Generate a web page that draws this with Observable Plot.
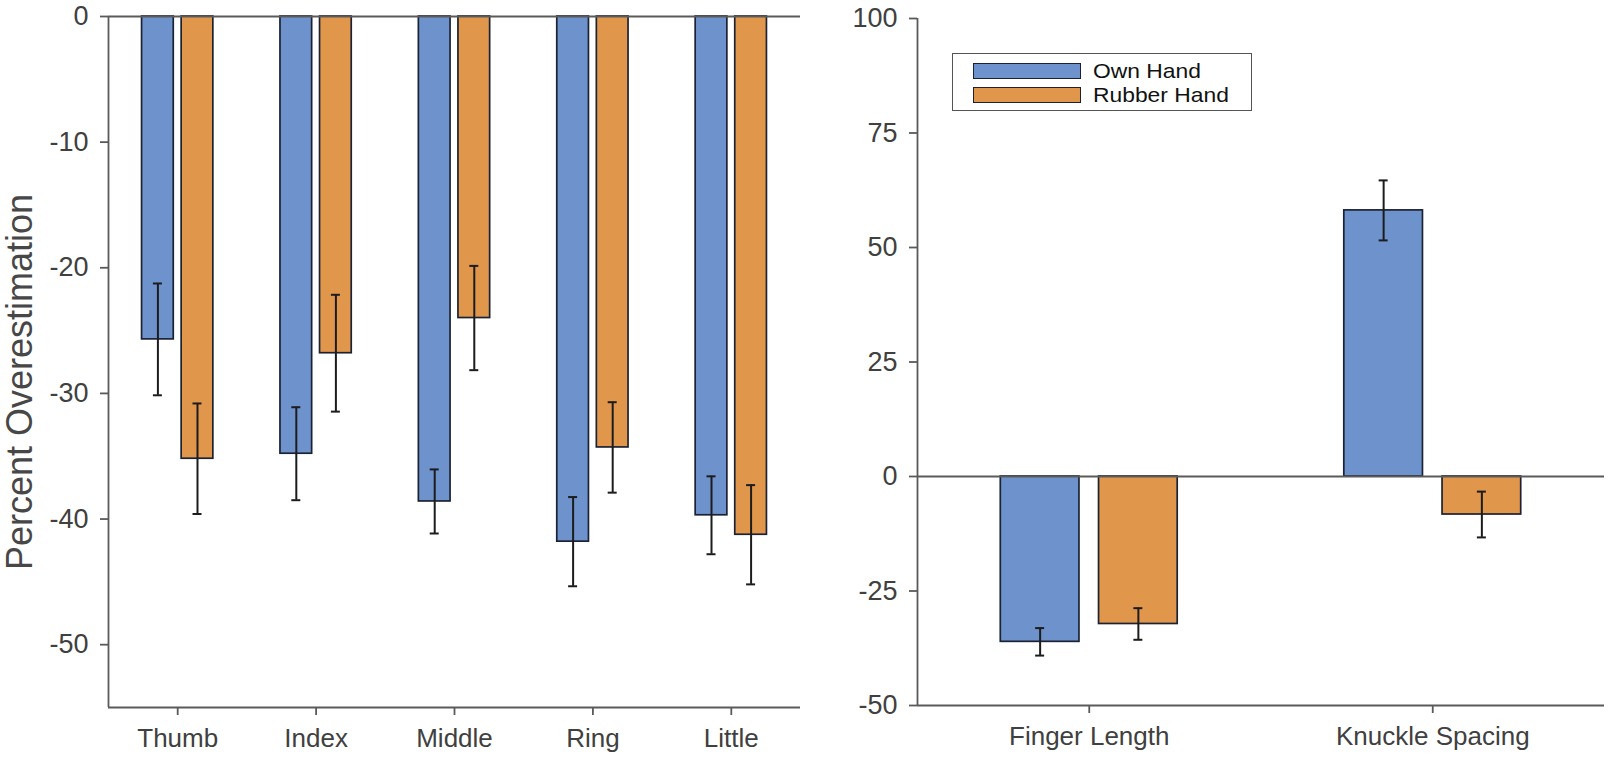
<!DOCTYPE html>
<html>
<head>
<meta charset="utf-8">
<script src="https://cdn.jsdelivr.net/npm/d3@7"></script>
<script src="https://cdn.jsdelivr.net/npm/@observablehq/plot@0.6"></script>
<style>
  body { margin: 0; background: #fff; }
  #wrap { position: relative; width: 1610px; height: 761px; font-family: "Liberation Sans", Arial, Helvetica, sans-serif; }
  #left, #right { position: absolute; top: 0; }
  #left { left: 0; }
  #right { left: 830px; }
  #legend { position: absolute; left: 952px; top: 53px; width: 300px; height: 58px; border: 1.5px solid #555; background: #fff; box-sizing: border-box; }
  #legend .sw { position: absolute; left: 20px; width: 108px; height: 16px; border: 1.7px solid #1b2233; box-sizing: border-box; }
  #legend .lb { position: absolute; left: 140px; font-size: 20.4px; line-height: 20px; height: 20px; color: #111; white-space: nowrap; transform: scaleX(1.12); transform-origin: left center; }
</style>
</head>
<body>
<div id="wrap">
  <div id="left"></div>
  <div id="right"></div>
  <div id="legend"></div>
</div>
<script>
// ---- data ----
const seriesNames = ["Own Hand", "Rubber Hand"];
const seriesColors = ["#6e92cc", "#e1974b"];

const fingerCategories = ["Thumb", "Index", "Middle", "Ring", "Little"];
const ownFinger = [-25.7, -34.8, -38.6, -41.8, -39.7];
const ownFingerSE = [4.45, 3.7, 2.55, 3.55, 3.1];
const rubberFinger = [-35.2, -26.8, -24.0, -34.3, -41.25];
const rubberFingerSE = [4.4, 4.65, 4.15, 3.6, 3.95];
const fingerTicks = [0, -10, -20, -30, -40, -50];
const fingerDomain = [-55, 0];

const measureCategories = ["Finger Length", "Knuckle Spacing"];
const ownMeasure = [-36.1, 58.1];
const ownMeasureSE = [3.0, 6.55];
const rubberMeasure = [-32.2, -8.3];
const rubberMeasureSE = [3.45, 5.0];
const measureTicks = [-50, -25, 0, 25, 50, 75, 100];
const measureDomain = [-50, 100];

const yLabel = "Percent Overestimation";

// ---- helpers ----
function buildRows(cats, own, ownSE, rub, rubSE) {
  return cats.flatMap((c, i) => [
    { cat: c, i, s: 0, series: seriesNames[0], value: own[i], se: ownSE[i] },
    { cat: c, i, s: 1, series: seriesNames[1], value: rub[i], se: rubSE[i] }
  ]);
}

const axisColor = "#5a5a5a";
const textColor = "#404040";
const font = "Liberation Sans, Arial, Helvetica, sans-serif";

function panel({ cats, rows, yDomain, yTicks, width, height, marginLeft, marginRight, marginTop, marginBottom, label }) {
  const xDomain = [0.5, cats.length + 0.5];
  const pxPerUnit = (width - marginLeft - marginRight) / cats.length;
  const capHalf = 4.5 / pxPerUnit;
  const off = [-0.143, 0.143];
  const half = 0.1145;
  const xc = d => d.i + 1 + off[d.s];
  const errStyle = { stroke: "#1c1c1c", strokeWidth: 2 };
  const marks = [
    Plot.rectY(rows, { x1: d => xc(d) - half, x2: d => xc(d) + half, y1: 0, y2: "value", fill: "series", stroke: "#1b2233", strokeWidth: 1.7 }),
    Plot.ruleX(rows, { x: xc, y1: d => d.value - d.se, y2: d => d.value + d.se, ...errStyle }),
    Plot.ruleY(rows, { y: d => d.value - d.se, x1: d => xc(d) - capHalf, x2: d => xc(d) + capHalf, ...errStyle }),
    Plot.ruleY(rows, { y: d => d.value + d.se, x1: d => xc(d) - capHalf, x2: d => xc(d) + capHalf, ...errStyle }),
    Plot.ruleY([0], { stroke: axisColor, strokeWidth: 1.8 }),
    Plot.ruleY([yDomain[0]], { stroke: axisColor, strokeWidth: 1.8 }),
    Plot.ruleX([xDomain[0]], { stroke: axisColor, strokeWidth: 1.8 }),
    Plot.axisY({ ticks: yTicks, tickFormat: d => String(d), tickSize: 8, tickPadding: 12, fontSize: 27, label: null, stroke: axisColor, strokeWidth: 1.8, fill: textColor }),
    Plot.axisX({ ticks: d3.range(1, cats.length + 1), tickFormat: t => cats[t - 1], tickSize: 8, tickPadding: 13, fontSize: 26, label: null, stroke: axisColor, strokeWidth: 1.8, fill: textColor })
  ];
  if (label) {
    marks.push(Plot.text([label], { frameAnchor: "left", rotate: -90, dx: -88, dy: 20, fontSize: 36, fill: "#474747", textAnchor: "middle", lineAnchor: "middle" }));
  }
  return Plot.plot({
    width, height, marginLeft, marginRight, marginTop, marginBottom,
    x: { type: "linear", domain: xDomain, axis: null },
    y: { domain: yDomain, axis: null },
    color: { domain: seriesNames, range: seriesColors },
    style: { fontFamily: font, background: "white", overflow: "visible" },
    marks
  });
}

document.getElementById("left").append(panel({
  cats: fingerCategories,
  rows: buildRows(fingerCategories, ownFinger, ownFingerSE, rubberFinger, rubberFingerSE),
  yDomain: fingerDomain, yTicks: fingerTicks,
  width: 830, height: 761, marginLeft: 108, marginRight: 30, marginTop: 16, marginBottom: 54,
  label: yLabel
}));

document.getElementById("right").append(panel({
  cats: measureCategories,
  rows: buildRows(measureCategories, ownMeasure, ownMeasureSE, rubberMeasure, rubberMeasureSE),
  yDomain: measureDomain, yTicks: measureTicks,
  width: 780, height: 761, marginLeft: 87, marginRight: 6, marginTop: 18, marginBottom: 56,
  label: null
}));

// legend
const legend = document.getElementById("legend");
seriesNames.forEach((name, k) => {
  const sw = document.createElement("div");
  sw.className = "sw";
  sw.style.top = (9 + k * 23.5) + "px";
  sw.style.background = seriesColors[k];
  legend.append(sw);
  const lb = document.createElement("div");
  lb.className = "lb";
  lb.style.top = (7 + k * 23.5) + "px";
  lb.textContent = name;
  legend.append(lb);
});
</script>
</body>
</html>
